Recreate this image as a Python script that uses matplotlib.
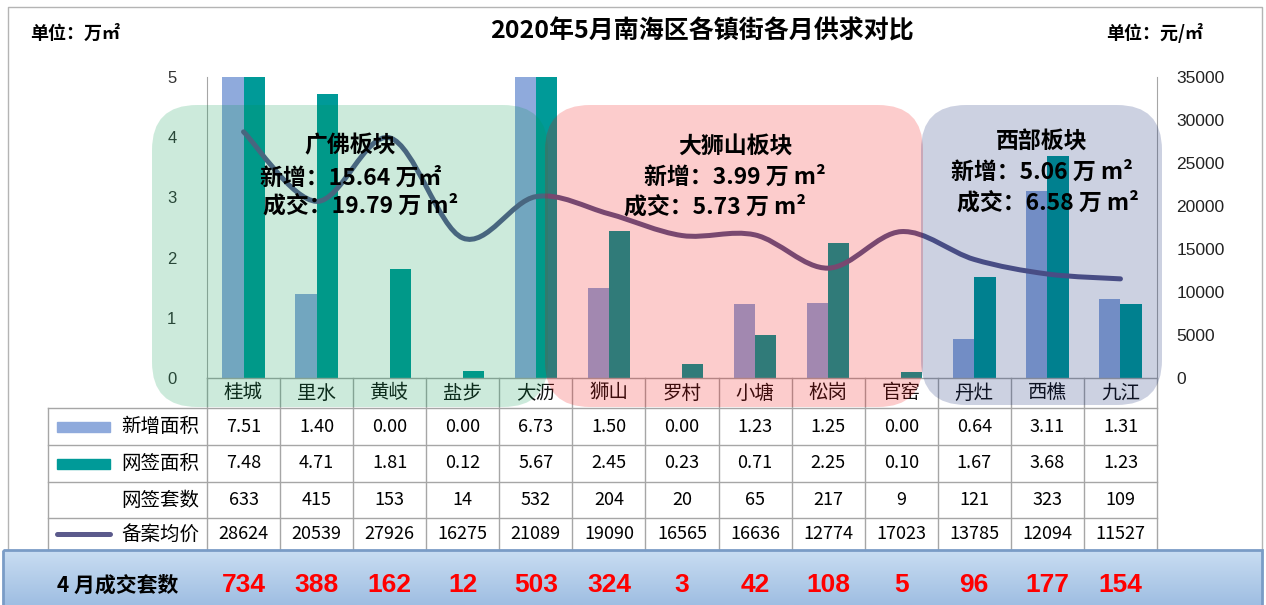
import matplotlib
matplotlib.use('Agg')
import matplotlib.pyplot as plt
import matplotlib.patches as patches
from matplotlib.path import Path
from matplotlib.colors import LinearSegmentedColormap
from matplotlib.transforms import blended_transform_factory
import numpy as np

plt.rcParams['font.family'] = ['Noto Sans CJK SC', 'DejaVu Sans']

# data
towns = ['桂城', '里水', '黄岐', '盐步', '大沥', '狮山', '罗村', '小塘', '松岗', '官窑', '丹灶', '西樵', '九江']
new_area = [7.51, 1.40, 0.00, 0.00, 6.73, 1.50, 0.00, 1.23, 1.25, 0.00, 0.64, 3.11, 1.31]
sign_area = [7.48, 4.71, 1.81, 0.12, 5.67, 2.45, 0.23, 0.71, 2.25, 0.10, 1.67, 3.68, 1.23]
sign_units = [633, 415, 153, 14, 532, 204, 20, 65, 217, 9, 121, 323, 109]
avg_price = [28624, 20539, 27926, 16275, 21089, 19090, 16565, 16636, 12774, 17023, 13785, 12094, 11527]
april_units = [734, 388, 162, 12, 503, 324, 3, 42, 108, 5, 96, 177, 154]

block_names = ['广佛板块', '大狮山板块', '西部板块']
block_new = ['新增：15.64 万㎡', '新增：3.99 万 m²', '新增：5.06 万 m²']
block_deal = ['成交：19.79 万 m²', '成交：5.73 万 m²', '成交：6.58 万 m²']

W, H = 1266, 605
new_color = '#8faadc'
sign_color = '#009a98'
line_color = '#5b5a8c'
grid_color = '#a6a6a6'


def smooth_path(xs, ys):
    # excel-like smoothed line, catmull-rom turned into bezier segments
    pts = np.column_stack([xs, ys]).astype(float)
    n = len(pts)
    verts = [pts[0]]
    codes = [Path.MOVETO]
    for i in range(n - 1):
        p0 = pts[max(i - 1, 0)]
        p1 = pts[i]
        p2 = pts[i + 1]
        p3 = pts[min(i + 2, n - 1)]
        verts += [p1 + (p2 - p0) / 6, p2 - (p3 - p1) / 6, p2]
        codes += [Path.CURVE4] * 3
    return Path(verts, codes)


fig = plt.figure(figsize=(W / 100, H / 100), dpi=100)
fig.patch.set_facecolor('white')

# main chart area in pixels: x 207..1157, y 77..378
ax = fig.add_axes([207 / W, (H - 378) / H, 950 / W, 301 / H])
x = np.arange(len(towns))
w = 0.29
ax.bar(x - w / 2, new_area, w, color=new_color)
ax.bar(x + w / 2, sign_area, w, color=sign_color)
ax.set_xlim(-0.5, len(towns) - 0.5)
ax.set_ylim(0, 5)
ax.set_xticks([])
ax.set_yticks(range(6))
ax.tick_params(axis='y', length=0, pad=22, labelsize=12, labelcolor='#333333')
for lab in ax.get_yticklabels():
    lab.set_family('Liberation Sans')
for s in ['top', 'bottom', 'right']:
    ax.spines[s].set_visible(False)
ax.spines['left'].set_color(grid_color)
ax.patch.set_alpha(0)

ax2 = ax.twinx()
ax2.set_ylim(0, 35000)
ax2.set_yticks(range(0, 35001, 5000))
ax2.tick_params(axis='y', length=0, pad=14, labelsize=12.5, labelcolor='#222222')
for lab in ax2.get_yticklabels():
    lab.set_family('Liberation Sans')
for s in ['top', 'bottom', 'left']:
    ax2.spines[s].set_visible(False)
ax2.spines['right'].set_color(grid_color)
ax2.add_patch(patches.PathPatch(smooth_path(x, avg_price), fill=False,
                                edgecolor=line_color, lw=3.6, capstyle='round'))

# overlay in pixel coords for table, blocks and titles
ov = fig.add_axes([0, 0, 1, 1], zorder=5)
ov.axis('off')
tr = blended_transform_factory(ax.transData, ov.transData)

# bottom band
cmap = LinearSegmentedColormap.from_list('band', ['#c9ddf2', '#9fbee2'])
grad = np.linspace(0, 1, 50).reshape(-1, 1)
ov.imshow(grad, cmap=cmap, extent=(3, 1262, 605, 550), aspect='auto', zorder=1)
ov.add_patch(patches.Rectangle((3, 550), 1259, 60, fill=False, edgecolor='#7a9cc6', lw=2, zorder=2))

ov.set_xlim(0, W)
ov.set_ylim(H, 0)

# outer frame
ov.plot([8, 8, 1262, 1262], [600, 7, 7, 600], color='#b4b4b4', lw=1, zorder=0)

# table
rows = [378, 408, 445, 482, 518, 550]
ov.plot([-0.5, len(towns) - 0.5], [378, 378], color=grid_color, lw=1, transform=tr, zorder=1)
for y in rows[1:-1]:
    ov.plot([48, 1157], [y, y], color=grid_color, lw=1, zorder=1)
ov.plot([48, 48], [408, 550], color=grid_color, lw=1, zorder=1)
for i in range(len(towns) + 1):
    ov.plot([i - 0.5, i - 0.5], [378, 550], color=grid_color, lw=1, transform=tr, zorder=1)

row_mid = [(rows[k] + rows[k + 1]) / 2 for k in range(len(rows) - 1)]
for i, t in enumerate(towns):
    ov.text(i, row_mid[0], t, transform=tr, ha='center', va='center', fontsize=14, color='#111111', zorder=1)
    ov.text(i, row_mid[1], '%.2f' % new_area[i], transform=tr, ha='center', va='center', fontsize=13, zorder=1)
    ov.text(i, row_mid[2], '%.2f' % sign_area[i], transform=tr, ha='center', va='center', fontsize=13, zorder=1)
    ov.text(i, row_mid[3], str(sign_units[i]), transform=tr, ha='center', va='center', fontsize=13, zorder=1)
    ov.text(i, row_mid[4], str(avg_price[i]), transform=tr, ha='center', va='center', fontsize=13, zorder=1)
    ov.text(i, 585, str(april_units[i]), transform=tr, ha='center', va='center', fontsize=19,
            fontweight='bold', color='#ff0000', family=['Liberation Sans', 'Noto Sans CJK SC'], zorder=3)

row_names = ['新增面积', '网签面积', '网签套数', '备案均价']
for k, name in enumerate(row_names):
    ov.text(199, row_mid[k + 1], name, ha='right', va='center', fontsize=14, zorder=1)
ov.add_patch(patches.Rectangle((57, row_mid[1] - 5), 53, 10, color=new_color, zorder=1))
ov.add_patch(patches.Rectangle((57, row_mid[2] - 5), 53, 10, color=sign_color, zorder=1))
ov.plot([57, 110], [row_mid[4], row_mid[4]], color=line_color, lw=3.6, solid_capstyle='round', zorder=1)

ov.text(118, 585, '4 月成交套数', ha='center', va='center', fontsize=15, fontweight='bold', zorder=3)

# blocks (semi-transparent, on top of bars and line)
block_boxes = [(152, 105, 396, 302), (545, 105, 378, 302), (921, 105, 241, 300)]
block_colors = [(0.0, 0.6, 0.3), (0.95, 0.0, 0.0), (0.0, 0.1, 0.42)]
text_pos = [[(350, 146), (351, 178), (361, 206)],
            [(735, 146), (735, 177), (715, 207)],
            [(1042, 142), (1042, 172), (1048, 203)]]
for b in range(3):
    x0, y0, bw, bh = block_boxes[b]
    ov.add_patch(patches.FancyBboxPatch((x0, y0), bw, bh, boxstyle='round,pad=0,rounding_size=45',
                                        facecolor=block_colors[b], edgecolor='none', alpha=0.2, zorder=2))
    for txt, (tx, ty) in zip([block_names[b], block_new[b], block_deal[b]], text_pos[b]):
        ov.text(tx, ty, txt, ha='center', va='center', fontsize=16.5, fontweight='bold', color='#000000', zorder=3)

# titles
ov.text(702, 31, '2020年5月南海区各镇街各月供求对比', ha='center', va='center', fontsize=18, fontweight='bold', zorder=3)
ov.text(75, 33, '单位：万㎡', ha='center', va='center', fontsize=13, fontweight='bold', zorder=3)
ov.text(1155, 33, '单位：元/㎡', ha='center', va='center', fontsize=13, fontweight='bold', zorder=3)

fig.savefig('out.png', dpi=100)
